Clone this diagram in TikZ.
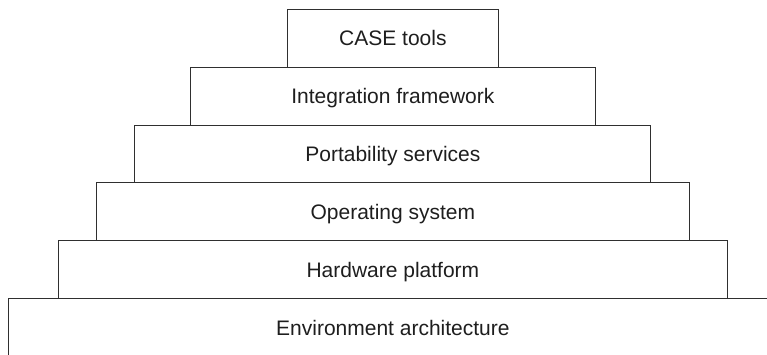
\documentclass[tikz,border=0pt]{standalone}
\usepackage{fontspec}
\setmainfont{Liberation Sans}
\usetikzlibrary{positioning}
\definecolor{tierline}{HTML}{2F2F2F}
\definecolor{tiertext}{HTML}{1E1E1E}
\tikzset{
  tier/.style   = {draw=tierline, line width=1pt, rectangle, outer sep=0pt,
                   inner sep=0pt, minimum height=57.9pt, text height=15.5pt,
                   text depth=0pt, text=tiertext,
                   font=\fontsize{21}{25}\selectfont},
  tierbase/.style = {tier, draw=none},
  tierrim/.style  = {draw=tierline, line width=1pt},
}

\begin{document}
\begin{tikzpicture}[x=1pt, y=-1pt, line cap=rect, line join=miter]
  \useasboundingbox (0,0) rectangle (767,354);
  % bottom tier is open to the right and below
  \node[tierbase, minimum width=769.8pt] (env) at (392.9,327.65) {Environment architecture};
  \coordinate (envend) at (767,298.7);
  \draw[tierrim] (env.south west) |- (envend);
  \node[tier, minimum width=668.7pt, above=0pt of env]  (hw)    {Hardware platform};
  \node[tier, minimum width=592.3pt, above=0pt of hw]   (os)    {Operating system};
  \node[tier, minimum width=516pt,   above=0pt of os]   (port)  {Portability services};
  \node[tier, minimum width=404.3pt, above=0pt of port] (integ) {Integration framework};
  \node[tier, minimum width=211.5pt, above=0pt of integ] (case) {CASE tools};
\end{tikzpicture}
\end{document}
